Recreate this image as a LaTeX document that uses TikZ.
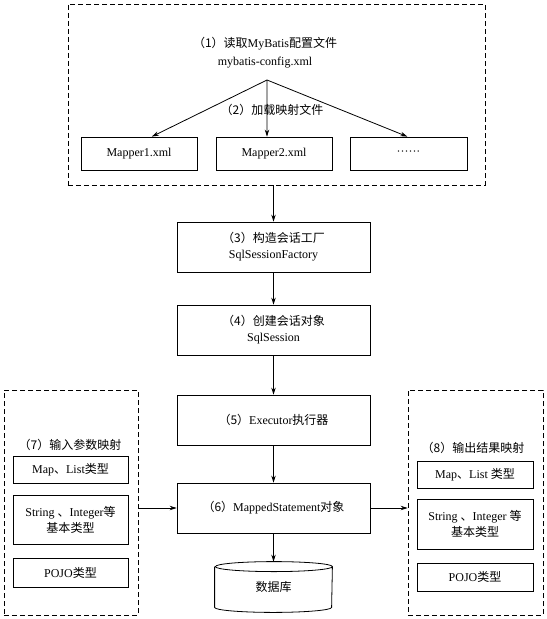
\documentclass[tikz,border=0pt]{standalone}
\usepackage{fontspec}
\setmainfont{Liberation Serif}
\newfontfamily\cjk{Noto Sans CJK SC}
\newcommand\zh[1]{{\cjk #1}}
\usetikzlibrary{arrows.meta,calc}
\begin{document}
\begin{tikzpicture}[x=1bp,y=-1bp,
  font=\fontsize{12bp}{16bp}\selectfont,
  line width=0.8bp,
  box/.style={draw, rectangle, inner sep=0pt, align=center},
  dbox/.style={draw, rectangle, inner sep=0pt, dash pattern=on 5bp off 3bp},
  lbl/.style={inner sep=0pt, align=center},
  arr/.style={-{Stealth[length=7bp,width=4.5bp]}}]
\useasboundingbox[fill=white] (0,0) rectangle (547,619);

% top dashed group
\node[dbox, minimum width=417bp, minimum height=181bp] (top) at (276.5,94.5) {};
\node[lbl] (t1) at (265,52.5) {\zh{（1）读取}MyBatis\zh{配置文件}\\[2bp]mybatis-config.xml};
\coordinate (fan) at (267,80);
\node[lbl] (t2) at (272,110) {\zh{（2）加载映射文件}};
\node[box, minimum width=116bp, minimum height=33bp] (m1) at (139,153.5) {Mapper1.xml};
\node[box, minimum width=116bp, minimum height=33bp] (m2) at (274,153.5) {Mapper2.xml};
\node[box, minimum width=117bp, minimum height=33bp] (m3) at (408.5,153.5) {\textperiodcentered\textperiodcentered\textperiodcentered\textperiodcentered\textperiodcentered\textperiodcentered};
\draw[arr] (fan) -- ($(m1.north west)!0.61!(m1.north east)$);
\draw[arr] (fan) -- ($(m2.north west)!0.44!(m2.north east)$);
\draw[arr] (fan) -- ($(m3.north west)!0.49!(m3.north east)$);

% central chain
\node[box, minimum width=193bp, minimum height=50bp] (b3) at (273.5,247) {\zh{（3）构造会话工厂}\\SqlSessionFactory};
\node[box, minimum width=193bp, minimum height=50bp] (b4) at (273.5,330) {\zh{（4）创建会话对象}\\SqlSession};
\node[box, minimum width=193bp, minimum height=50bp] (b5) at (273.5,420) {\zh{（5）}Executor\zh{执行器}};
\node[box, minimum width=193bp, minimum height=50bp] (b6) at (273.5,508) {\zh{（6）}MappedStatement\zh{对象}};
\node[lbl, minimum width=117bp, minimum height=50bp] (db) at (273.5,587) {\zh{数据库}};
\draw ([yshift=-5bp]db.north west) -- ([yshift=5bp]db.south west)
  arc[start angle=180, end angle=360, x radius=58.5bp, y radius=5bp]
  -- ([yshift=-5bp]db.north east)
  arc[start angle=0, end angle=360, x radius=58.5bp, y radius=5bp];

\draw[arr] (top.south -| b3.north) -- (b3.north);
\draw[arr] (b3) -- (b4);
\draw[arr] (b4) -- (b5);
\draw[arr] (b5) -- (b6);
\draw[arr] (b6) -- (db.north);

% left group
\node[dbox, minimum width=134bp, minimum height=225bp] (lg) at (71,502.5) {};
\node[lbl] (l0) at (70,445) {\zh{（7）输入参数映射}};
\node[box, minimum width=115bp, minimum height=27bp] (l1) at (70.5,469.5) {Map\zh{、}List\zh{类型}};
\node[box, minimum width=115bp, minimum height=49bp] (l2) at (70.5,519.5) {String \zh{、}Integer\zh{等}\\\zh{基本类型}};
\node[box, minimum width=115bp, minimum height=29bp] (l3) at (70.5,572.5) {POJO\zh{类型}};

% right group
\node[dbox, minimum width=135bp, minimum height=225bp] (rg) at (475.5,502.5) {};
\node[lbl] (r0) at (473,448) {\zh{（8）输出结果映射}};
\node[box, minimum width=116bp, minimum height=27bp] (r1) at (475,474.5) {Map\zh{、}List \zh{类型}};
\node[box, minimum width=116bp, minimum height=50bp] (r2) at (475,524) {String \zh{、}Integer \zh{等}\\\zh{基本类型}};
\node[box, minimum width=116bp, minimum height=28bp] (r3) at (475,577) {POJO\zh{类型}};

\draw[arr] (b6.west -| lg.east) -- (b6.west);
\draw[arr] (b6.east) -- (b6.east -| rg.west);
\end{tikzpicture}
\end{document}
